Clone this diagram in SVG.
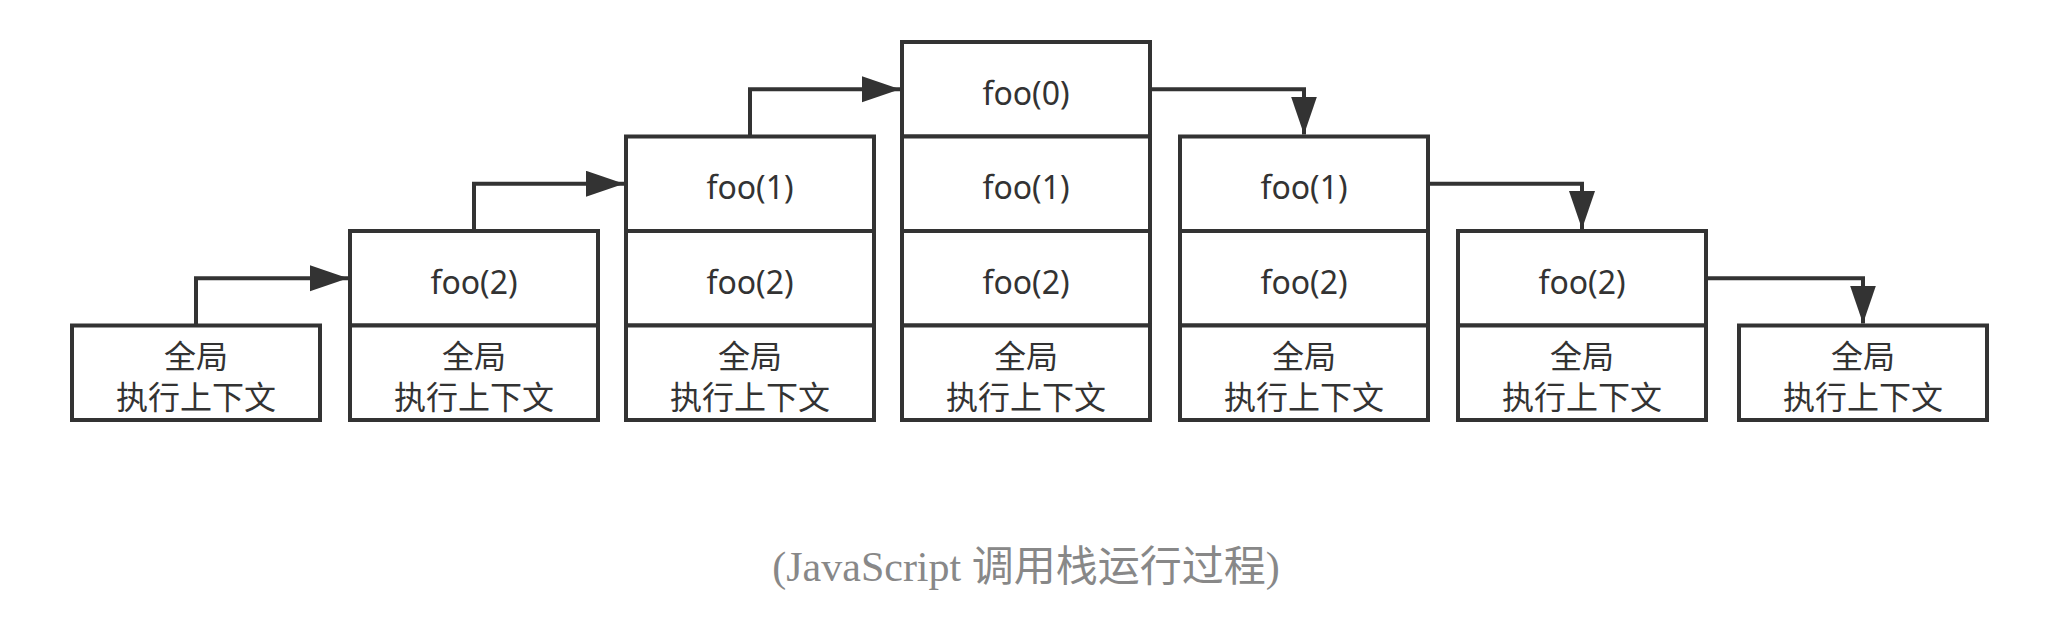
<svg xmlns="http://www.w3.org/2000/svg" width="2051" height="636" viewBox="0 0 2051 636">
<defs>
<style>
.cell{fill:#ffffff;stroke:#333333;stroke-width:4}
.lbl{font-family:"Noto Sans","Noto Sans CJK SC",sans-serif;font-size:32px;fill:#333333;text-anchor:middle}
.conn{fill:none;stroke:#333333;stroke-width:4}
.cap{font-family:"Liberation Serif","Noto Sans CJK SC",serif;font-size:42px;fill:#888888;text-anchor:middle}
.cjk{font-family:"Noto Sans CJK SC",sans-serif}
</style>
<marker id="arr" markerUnits="userSpaceOnUse" markerWidth="40" markerHeight="28" refX="38" refY="13" orient="auto">
<path d="M0,0 L38,13 L0,26 Z" fill="#333333"/>
</marker>
</defs>
<rect width="2051" height="636" fill="#ffffff"/>
<g id="connectors">
<path class="conn" d="M196,325.5 V278.25 H348" marker-end="url(#arr)"/>
<path class="conn" d="M474,231 V183.75 H624" marker-end="url(#arr)"/>
<path class="conn" d="M750,136.5 V89.25 H900" marker-end="url(#arr)"/>
<path class="conn" d="M1150,89.25 H1304 V134.5" marker-end="url(#arr)"/>
<path class="conn" d="M1428,183.75 H1582 V229" marker-end="url(#arr)"/>
<path class="conn" d="M1706,278.25 H1863 V323.5" marker-end="url(#arr)"/>
</g>
<g id="c1-global"><rect class="cell" x="72" y="325.5" width="248" height="94.5"/><text class="lbl" x="196" y="368">全局</text><text class="lbl" x="196" y="409">执行上下文</text></g>
<g id="c2-foo2"><rect class="cell" x="350" y="231" width="248" height="94.5"/><text class="lbl" x="474" y="293.5">foo(2)</text></g>
<g id="c2-global"><rect class="cell" x="350" y="325.5" width="248" height="94.5"/><text class="lbl" x="474" y="368">全局</text><text class="lbl" x="474" y="409">执行上下文</text></g>
<g id="c3-foo1"><rect class="cell" x="626" y="136.5" width="248" height="94.5"/><text class="lbl" x="750" y="199">foo(1)</text></g>
<g id="c3-foo2"><rect class="cell" x="626" y="231" width="248" height="94.5"/><text class="lbl" x="750" y="293.5">foo(2)</text></g>
<g id="c3-global"><rect class="cell" x="626" y="325.5" width="248" height="94.5"/><text class="lbl" x="750" y="368">全局</text><text class="lbl" x="750" y="409">执行上下文</text></g>
<g id="c4-foo0"><rect class="cell" x="902" y="42" width="248" height="94.5"/><text class="lbl" x="1026" y="104.5">foo(0)</text></g>
<g id="c4-foo1"><rect class="cell" x="902" y="136.5" width="248" height="94.5"/><text class="lbl" x="1026" y="199">foo(1)</text></g>
<g id="c4-foo2"><rect class="cell" x="902" y="231" width="248" height="94.5"/><text class="lbl" x="1026" y="293.5">foo(2)</text></g>
<g id="c4-global"><rect class="cell" x="902" y="325.5" width="248" height="94.5"/><text class="lbl" x="1026" y="368">全局</text><text class="lbl" x="1026" y="409">执行上下文</text></g>
<g id="c5-foo1"><rect class="cell" x="1180" y="136.5" width="248" height="94.5"/><text class="lbl" x="1304" y="199">foo(1)</text></g>
<g id="c5-foo2"><rect class="cell" x="1180" y="231" width="248" height="94.5"/><text class="lbl" x="1304" y="293.5">foo(2)</text></g>
<g id="c5-global"><rect class="cell" x="1180" y="325.5" width="248" height="94.5"/><text class="lbl" x="1304" y="368">全局</text><text class="lbl" x="1304" y="409">执行上下文</text></g>
<g id="c6-foo2"><rect class="cell" x="1458" y="231" width="248" height="94.5"/><text class="lbl" x="1582" y="293.5">foo(2)</text></g>
<g id="c6-global"><rect class="cell" x="1458" y="325.5" width="248" height="94.5"/><text class="lbl" x="1582" y="368">全局</text><text class="lbl" x="1582" y="409">执行上下文</text></g>
<g id="c7-global"><rect class="cell" x="1739" y="325.5" width="248" height="94.5"/><text class="lbl" x="1863" y="368">全局</text><text class="lbl" x="1863" y="409">执行上下文</text></g>
<g id="caption"><text class="cap" x="1026" y="581">(JavaScript <tspan class="cjk">调用栈运行过程</tspan>)</text></g>
</svg>
